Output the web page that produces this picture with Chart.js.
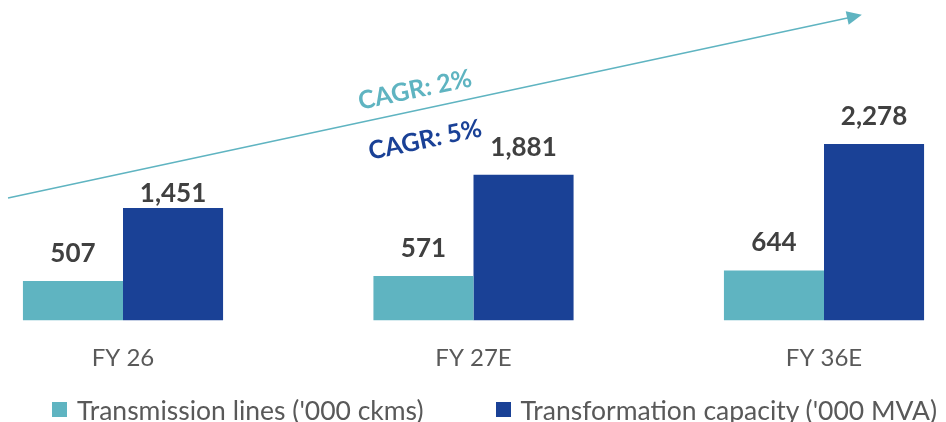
<!DOCTYPE html>
<html>
<head>
<meta charset="utf-8">
<script src="https://cdn.jsdelivr.net/npm/chart.js@4"></script>
<style>
  html, body { margin: 0; padding: 0; background: #fff; }
  .wrap { position: relative; width: 946px; height: 422px; }
  #legend {
    position: absolute; left: 0; top: 394px; width: 946px; height: 31px;
    display: flex; justify-content: flex-start; gap: 72px;
    font-family: Lato, sans-serif; font-size: 26.5px; color: #595959;
    padding-left: 52px; box-sizing: border-box; white-space: nowrap;
  }
  #legend span { display: inline-flex; align-items: center; }
  #legend i { display: inline-block; width: 15px; height: 15px; margin-right: 10px; }
</style>
</head>
<body>
<div class="wrap">
  <canvas id="chart" width="946" height="422"></canvas>
  <div id="legend"></div>
</div>
<script>
/* ── DATA ─────────────────────────────────────── */
const categories = ['FY 26', 'FY 27E', 'FY 36E'];
const transmissionLines = [507, 571, 644];
const transformationCapacity = [1451, 1881, 2278];
const seriesNames = ["Transmission lines ('000 ckms)", "Transformation capacity ('000 MVA)"];
const cagrLabels = ['CAGR: 2%', 'CAGR: 5%'];

const TEAL = '#5fb4c1';
const BLUE = '#1a4196';

/* ── PLUGINS ──────────────────────────────────── */
const valueLabels = {
    id: 'valueLabels',
    afterDatasetsDraw(chart) {
        const { ctx } = chart;
        ctx.save();
        ctx.font = "bold 26px Lato, sans-serif";
        ctx.fillStyle = '#404040';
        ctx.textAlign = 'center';
        ctx.textBaseline = 'alphabetic';
        chart.data.datasets.forEach((ds, i) => {
            chart.getDatasetMeta(i).data.forEach((bar, j) => {
                // first blue label sits tight to its bar (kept clear of the arrow)
                const gap = (i === 1 && j === 0) ? 6 : 19;
                ctx.fillText(ds.data[j].toLocaleString('en-US'), bar.x, bar.y - gap);
            });
        });
        ctx.restore();
    }
};

const cagrArrow = {
    id: 'cagrArrow',
    afterDraw(chart) {
        const { ctx, scales: { x, y } } = chart;
        const x0 = x.getPixelForValue(-0.328), y0 = y.getPixelForValue(1579);
        const x1 = x.getPixelForValue(2.108), y1 = y.getPixelForValue(3948);
        const ang = Math.atan2(y1 - y0, x1 - x0);
        ctx.save();
        ctx.strokeStyle = TEAL;
        ctx.fillStyle = TEAL;
        ctx.lineWidth = 1.5;
        ctx.beginPath();
        ctx.moveTo(x0, y0);
        ctx.lineTo(x1 - 10 * Math.cos(ang), y1 - 10 * Math.sin(ang));
        ctx.stroke();
        ctx.translate(x1, y1);
        ctx.rotate(ang);
        ctx.beginPath();
        ctx.moveTo(0, 0);
        ctx.lineTo(-15, -7);
        ctx.lineTo(-15, 7);
        ctx.closePath();
        ctx.fill();
        ctx.restore();

        ctx.save();
        ctx.font = "bold 25px Lato, sans-serif";
        ctx.textAlign = 'center';
        ctx.textBaseline = 'middle';
        [[cagrLabels[0], 0.833, 2977, TEAL], [cagrLabels[1], 0.862, 2330, BLUE]].forEach(([t, xi, yv, c]) => {
            ctx.save();
            ctx.translate(x.getPixelForValue(xi), y.getPixelForValue(yv));
            ctx.rotate(-12 * Math.PI / 180);
            ctx.fillStyle = c;
            ctx.fillText(t, 0, 0);
            ctx.restore();
        });
        ctx.restore();
    }
};

/* ── LEGEND ───────────────────────────────────── */
document.getElementById('legend').innerHTML = seriesNames
    .map((n, i) => `<span><i style="background:${[TEAL, BLUE][i]}"></i>${n}</span>`)
    .join('');

/* ── CHART ────────────────────────────────────── */
new Chart(document.getElementById('chart'), {
    type: 'bar',
    data: {
        labels: categories,
        datasets: [
            { label: seriesNames[0], data: transmissionLines, backgroundColor: TEAL, clip: false },
            { label: seriesNames[1], data: transformationCapacity, backgroundColor: BLUE, clip: false },
        ],
    },
    options: {
        responsive: false,
        animation: false,
        categoryPercentage: 0.571,
        barPercentage: 1,
        layout: { padding: { left: 123, right: 122, top: 0, bottom: 25 } },
        plugins: { legend: { display: false }, tooltip: { enabled: false } },
        scales: {
            x: {
                offset: false,
                grid: { display: false, drawTicks: false },
                border: { display: false },
                ticks: { padding: 24, color: '#595959', font: { family: 'Lato', size: 24 } },
            },
            y: { display: false, min: 0, max: 4140 },
        },
    },
    plugins: [valueLabels, cagrArrow],
});
</script>
</body>
</html>
